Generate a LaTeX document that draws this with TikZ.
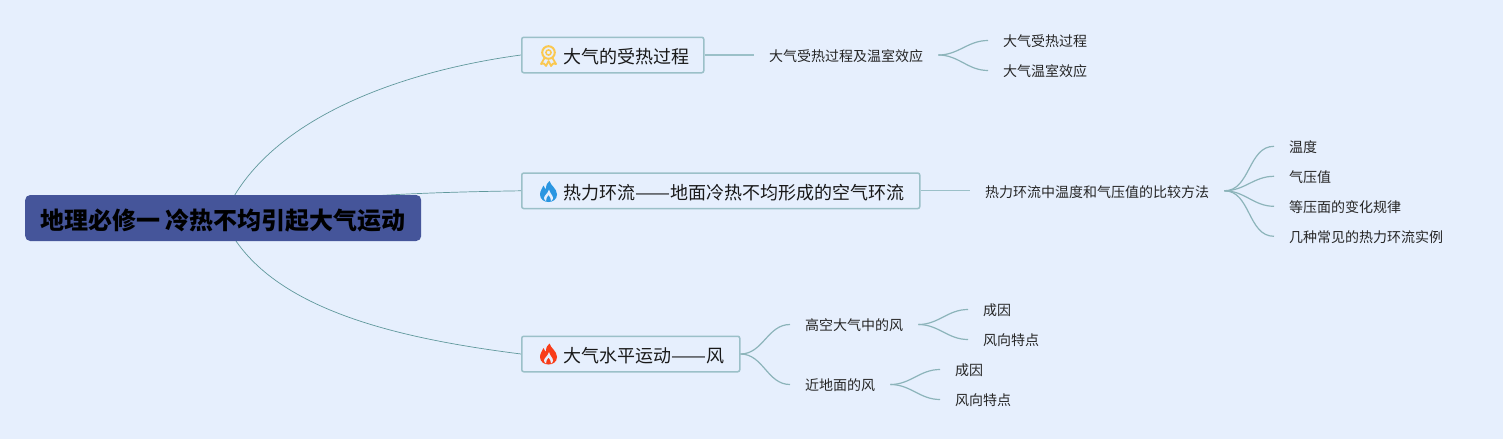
\documentclass[tikz,border=0pt]{standalone}
\usepackage{fontspec}
\usepackage{xcolor}
\setmainfont{Noto Sans CJK SC}
\usetikzlibrary{backgrounds}
\definecolor{paper}{RGB}{230, 239, 253}
\definecolor{rootfill}{RGB}{69, 85, 154}
\definecolor{frame}{RGB}{155, 192, 200}
\definecolor{limb}{RGB}{96, 152, 156}
\definecolor{twig}{RGB}{140, 180, 186}
\definecolor{medal}{RGB}{250, 200, 80}
\definecolor{blueflame}{RGB}{42, 150, 225}
\definecolor{redflame}{RGB}{248, 60, 25}
\newcommand{\longdash}{\scalebox{1.16}[1]{——}}
\tikzset{
  rootnode/.style={fill=rootfill,rounded corners=5pt,minimum width=396pt,minimum height=46pt,inner sep=0pt,
    text height=22.2pt,text depth=0pt,font=\fontsize{24}{26}\selectfont\bfseries,text=black,anchor=west},
  topic/.style={draw=frame,line width=1.5pt,fill=paper,rounded corners=2pt,minimum height=35.5pt,inner xsep=14.5pt,inner ysep=0pt,
    text height=16.8pt,text depth=0pt,font=\fontsize{18}{20}\selectfont,text=black!90,anchor=west},
  leaf/.style={inner xsep=15pt,inner ysep=3pt,text height=12.6pt,text depth=0pt,font=\fontsize{14}{16}\selectfont,text=black!85,anchor=west},
  limbline/.style={draw=limb,line width=0.7pt},
  branch/.style={draw=twig,line width=1.2pt,out=0,in=180},
  flame/.pic={
    \fill[pic actions] (1,-10.5) .. controls (2,-6) and (8.5,-3) .. (8.5,3) .. controls (8.5,8) and (4,10.5) .. (0,10.5)
      .. controls (-4,10.5) and (-8.5,8) .. (-8.5,3) .. controls (-8.5,-1) and (-6,-3) .. (-5,-6)
      .. controls (-4,-4) and (-3.5,-3) .. (-2.5,-2.5) .. controls (-2.5,-6) and (-1.5,-9) .. (1,-10.5) -- cycle;
    \fill[paper] (0.5,-2) .. controls (1.5,2) and (4.5,4) .. (4.5,6.5) .. controls (4.5,8) and (3.5,9) .. (2.5,9.5)
      .. controls (3,7) and (1,5) .. (0,3.5) .. controls (-1,5) and (-3,7) .. (-2.5,9.5)
      .. controls (-3.5,9) and (-4.5,8) .. (-4.5,6.5) .. controls (-4.5,4) and (-0.5,2) .. (0.5,-2) -- cycle;
  },
  rosette/.pic={
    \draw[medal,line width=2pt] (0,-2.5) circle (6.3);
    \draw[medal,line width=1.5pt] (0,-2.5) circle (2.6);
    \draw[medal,line width=1.8pt,line join=round] (-4,3) -- (-7.5,9) -- (-4.5,8.5) -- (-2.5,11) -- (0,6) -- (2.5,11) -- (4.5,8.5) -- (7.5,9) -- (4,3);
  },
}
\begin{document}
\begin{tikzpicture}[x=1pt,y=-1pt]
  \useasboundingbox (0,0) rectangle (1503,439);
  \node[rootnode] (root) at (25,218) {地理必修一 冷热不均引起大气运动};
  \node[topic,minimum width=182pt] (heating) at (521,55) {\hspace*{27pt}大气的受热过程};
  \node[topic,minimum width=398pt] (thermal) at (521,190.8) {\hspace*{27pt}热力环流\longdash 地面冷热不均形成的空气环流};
  \node[topic,minimum width=218pt] (wind) at (521,354) {\hspace*{27pt}大气水平运动\longdash 风};
  \pic[blueflame] at (548.5,191.5) {flame};
  \pic[redflame] at (548.5,354) {flame};
  \pic at (548.5,55) {rosette};
  \node[leaf] (greenhouse) at (754,55) {大气受热过程及温室效应};
  \node[leaf] (process) at (988,40.5) {大气受热过程};
  \node[leaf] (effect) at (988,70.5) {大气温室效应};
  \node[leaf] (compare) at (970,190.8) {热力环流中温度和气压值的比较方法};
  \node[leaf] (temp) at (1274,146.3) {温度};
  \node[leaf] (pressure) at (1274,176.3) {气压值};
  \node[leaf] (isobar) at (1274,206.3) {等压面的变化规律};
  \node[leaf] (example) at (1274,236.3) {几种常见的热力环流实例};
  \node[leaf] (upper) at (790,324.5) {高空大气中的风};
  \node[leaf] (cause1) at (968,309.5) {成因};
  \node[leaf] (direct1) at (968,339.5) {风向特点};
  \node[leaf] (ground) at (790,384.5) {近地面的风};
  \node[leaf] (cause2) at (940,369.5) {成因};
  \node[leaf] (direct2) at (940,399.5) {风向特点};
  \begin{pgfonlayer}{background}
    \fill[paper] (0,0) rectangle (1503,439);
    \draw[limbline] (root.center) .. controls (262,122) and (395,72) .. (heating.west);
    \draw[limbline] (root.center) .. controls (290,197) and (410,192.5) .. (thermal.west);
    \draw[limbline] (root.center) .. controls (262,308) and (395,338) .. (wind.west);
  \end{pgfonlayer}
  \path[draw=frame,line width=1.2pt]
    (heating.east) edge (greenhouse.west)
    (thermal.east) edge (compare.west);
  \path[branch]
    (greenhouse.east) edge (process.west)
    (greenhouse.east) edge (effect.west)
    (compare.east) edge (temp.west)
    (compare.east) edge (pressure.west)
    (compare.east) edge (isobar.west)
    (compare.east) edge (example.west)
    (wind.east) edge (upper.west)
    (wind.east) edge (ground.west)
    (upper.east) edge (cause1.west)
    (upper.east) edge (direct1.west)
    (ground.east) edge (cause2.west)
    (ground.east) edge (direct2.west);
\end{tikzpicture}
\end{document}
